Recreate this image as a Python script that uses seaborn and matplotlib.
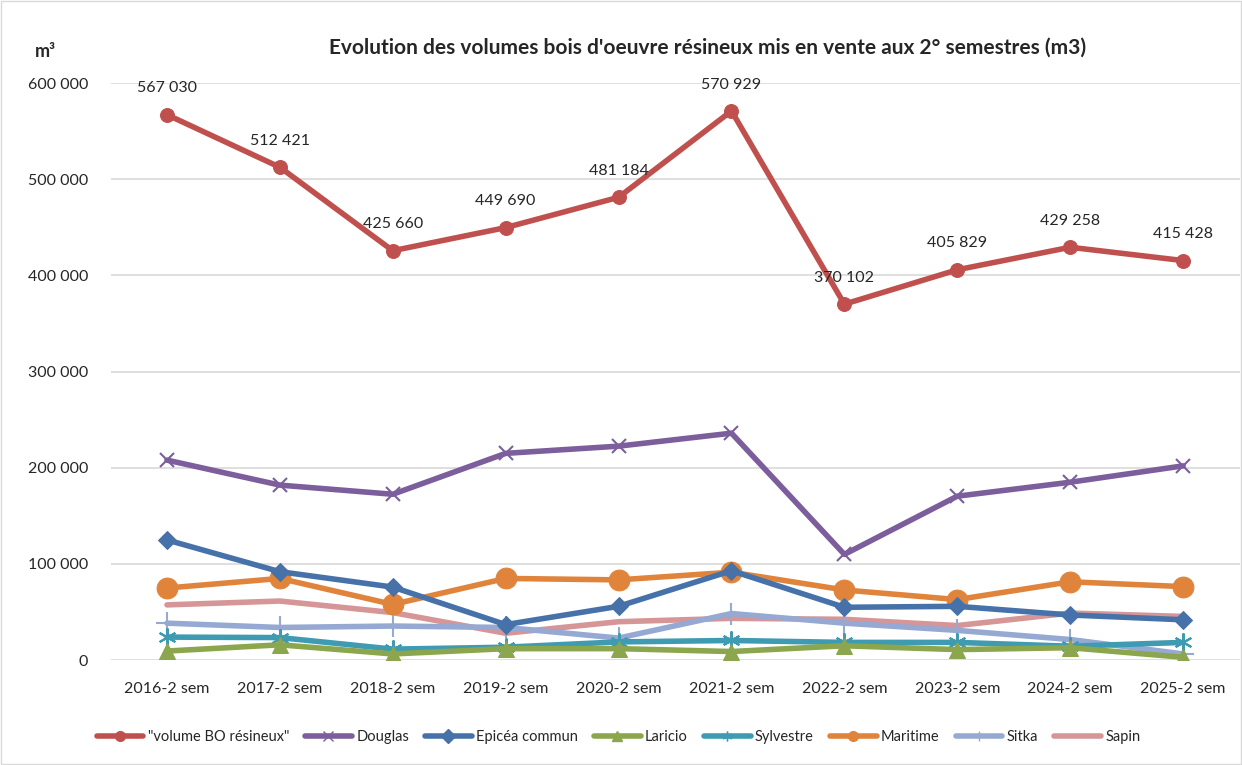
import pandas as pd
import matplotlib.pyplot as plt
import seaborn as sns
import numpy as np
from matplotlib.lines import Line2D

semestres = ['2016-2 sem', '2017-2 sem', '2018-2 sem', '2019-2 sem', '2020-2 sem',
             '2021-2 sem', '2022-2 sem', '2023-2 sem', '2024-2 sem', '2025-2 sem']

volume_bo = [567030, 512421, 425660, 449690, 481184, 570929, 370102, 405829, 429258, 415428]
douglas = [208000, 182000, 172500, 215000, 222500, 236000, 110000, 170500, 185000, 202000]
epicea = [125000, 92000, 76000, 37000, 56000, 93000, 55000, 56000, 47000, 42000]
laricio = [9500, 16000, 6500, 12000, 12000, 9000, 15000, 11000, 13000, 3000]
sylvestre = [24000, 23500, 11500, 13500, 19000, 20500, 18500, 18500, 14500, 18500]
maritime = [75000, 85000, 58000, 85000, 83500, 91500, 73000, 63000, 81500, 76500]
sitka = [38500, 34000, 35500, 34000, 23000, 48500, 38500, 31000, 21500, 6500]
sapin = [57500, 61500, 49500, 28000, 40000, 43500, 42500, 36000, 49000, 45500]

series = {
    '"volume BO résineux"': volume_bo,
    'Douglas': douglas,
    'Epicéa commun': epicea,
    'Laricio': laricio,
    'Sylvestre': sylvestre,
    'Maritime': maritime,
    'Sitka': sitka,
    'Sapin': sapin,
}

styles = {
    '"volume BO résineux"': dict(color='#C0504D', marker='o', markersize=10),
    'Douglas': dict(color='#7B5E9B', marker='x', markersize=10, markeredgewidth=1.5),
    'Epicéa commun': dict(color='#4672A9', marker='D', markersize=9),
    'Laricio': dict(color='#8BA64C', marker='^', markersize=12),
    'Sylvestre': dict(color='#3E9BB2', marker=(6, 2, 0), markersize=13, markeredgewidth=1.5),
    'Maritime': dict(color='#E0843C', marker='o', markersize=15),
    'Sitka': dict(color='#95A9D2', marker='+', markersize=16, markeredgewidth=1.5),
    'Sapin': dict(color='#D69596', marker=None),
}

df = pd.DataFrame(series)
df['semestre'] = semestres
long_df = df.melt(id_vars='semestre', var_name='essence', value_name='volume')

sns.set_style('white')
plt.rcParams['font.family'] = ['Lato', 'DejaVu Sans']

fig = plt.figure(figsize=(12.42, 7.65), dpi=100)
ax = fig.add_axes([0.089, 0.137, 0.909, 0.7545])

x = np.arange(len(semestres))
# draw in reverse so the main series sits on top
for name in reversed(list(series.keys())):
    sub = long_df[long_df['essence'] == name]
    sns.lineplot(x=x, y=sub['volume'].values, ax=ax, linewidth=4, legend=False,
                 markeredgecolor=styles[name]['color'], **styles[name])

for i, v in enumerate(volume_bo):
    ax.annotate(f"{v:,}".replace(',', ' '), (i, v), xytext=(0, 14), textcoords='offset points',
                ha='center', va='bottom', fontsize=11.5)

ax.set_xlim(-0.5, len(semestres) - 0.5)
ax.set_ylim(0, 600000)
ax.set_yticks(np.arange(0, 600001, 100000))
ax.set_yticklabels([f"{int(t):,}".replace(',', ' ') for t in ax.get_yticks()], fontsize=11.5)
ax.set_xticks(x)
ax.set_xticklabels(semestres, fontsize=11.5)
ax.tick_params(axis='both', length=0)
ax.tick_params(axis='x', pad=16)
ax.tick_params(axis='y', pad=16)
ax.grid(axis='y', color='#D9D9D9', linewidth=1.2)
ax.set_axisbelow(True)
for s in ax.spines.values():
    s.set_visible(False)
ax.set_xlabel('')
ax.set_ylabel('')

fig.text(0.57, 0.938, "Evolution des volumes bois d'oeuvre résineux mis en vente aux 2° semestres (m3)",
         ha='center', va='center', fontsize=15, fontweight='bold')
fig.text(0.028, 0.933, 'm³', ha='left', va='center', fontsize=13, fontweight='bold')

order = list(series.keys())
leg_handles = []
for name in order:
    st = styles[name]
    leg_handles.append(Line2D([], [], color=st['color'], linewidth=4,
                              marker=st['marker'], markersize=7 if st['marker'] else 0,
                              markeredgecolor=st['color']))
fig.legend(leg_handles, order, loc='center', bbox_to_anchor=(0.498, 1 - 737 / 765),
           ncol=8, frameon=False, fontsize=10.5, handlelength=3.2, columnspacing=1.1,
           handletextpad=0.3)

fig.patches.append(plt.Rectangle((0.001, 0.001), 0.998, 0.998, transform=fig.transFigure,
                                 fill=False, edgecolor='#D9D9D9', linewidth=1))

plt.savefig('out.png', dpi=100)
plt.close()
